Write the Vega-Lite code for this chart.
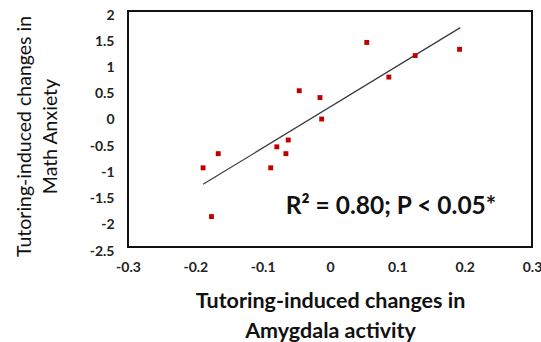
{
  "$schema": "https://vega.github.io/schema/vega-lite/v6.json",
  "width": 404,
  "height": 236,
  "autosize": "none",
  "padding": {"left": 128, "top": 11, "right": 9, "bottom": 95},
  "background": "white",
  "config": {
    "view": {"stroke": "#111111", "strokeWidth": 2},
    "font": "Lato",
    "axis": {"labelOverlap": false, "grid": false, "ticks": false, "domain": false, "labelFlush": false}
  },
  "datasets": {
    "points": [
      {"amygdala": -0.1885, "anxiety": -0.99},
      {"amygdala": -0.166, "anxiety": -0.72},
      {"amygdala": -0.176, "anxiety": -1.92},
      {"amygdala": -0.088, "anxiety": -0.99},
      {"amygdala": -0.079, "anxiety": -0.59},
      {"amygdala": -0.0655, "anxiety": -0.72},
      {"amygdala": -0.062, "anxiety": -0.46},
      {"amygdala": -0.0457, "anxiety": 0.48},
      {"amygdala": -0.0149, "anxiety": 0.35},
      {"amygdala": -0.0124, "anxiety": -0.06},
      {"amygdala": 0.0546, "anxiety": 1.40},
      {"amygdala": 0.0874, "anxiety": 0.74},
      {"amygdala": 0.1265, "anxiety": 1.15},
      {"amygdala": 0.1924, "anxiety": 1.27}
    ],
    "fit": [
      {"amygdala": -0.1885, "anxiety": -1.305},
      {"amygdala": 0.1935, "anxiety": 1.683}
    ],
    "note": [
      {"amygdala": 0.0905, "anxiety": -1.74, "label": "R² = 0.80; P < 0.05*"}
    ]
  },
  "encoding": {
    "x": {
      "field": "amygdala", "type": "quantitative",
      "scale": {"domain": [-0.3, 0.3], "nice": false, "zero": false},
      "axis": {
        "values": [-0.3, -0.2, -0.1, 0, 0.1, 0.2, 0.3],
        "labelExpr": "toString(datum.value)",
        "labelFontSize": 14, "labelFontWeight": "bold", "labelColor": "#222222",
        "labelPadding": 13, "labelOverlap": false,
        "title": ["Tutoring-induced changes in", "Amygdala activity"],
        "titleFontSize": 21.5, "titleFontWeight": "bold", "titleColor": "#111111",
        "titleLineHeight": 30, "titleBaseline": "top", "titleY": 43
      }
    },
    "y": {
      "field": "anxiety", "type": "quantitative",
      "scale": {"domain": [-2.5, 2], "nice": false, "zero": false},
      "axis": {
        "values": [-2.5, -2, -1.5, -1, -0.5, 0, 0.5, 1, 1.5, 2],
        "labelExpr": "toString(datum.value)",
        "labelFontSize": 14, "labelFontWeight": "bold", "labelColor": "#222222",
        "labelPadding": 14, "labelOffset": 4, "labelOverlap": false,
        "title": ["Tutoring-induced changes in", "Math Anxiety"],
        "titleFontSize": 19.5, "titleFontWeight": "normal", "titleColor": "#111111",
        "titleLineHeight": 26, "titleAngle": -90, "titleBaseline": "alphabetic",
        "titleAlign": "center", "titleX": -98, "titleY": 125
      }
    }
  },
  "layer": [
    {
      "data": {"name": "fit"},
      "mark": {"type": "line", "color": "#3a3a3a", "strokeWidth": 1.2}
    },
    {
      "data": {"name": "points"},
      "mark": {"type": "square", "color": "#c00000", "size": 24, "opacity": 1}
    },
    {
      "data": {"name": "note"},
      "mark": {"type": "text", "fontSize": 24.5, "fontWeight": "bold", "color": "#111111", "align": "center", "baseline": "middle"},
      "encoding": {
        "text": {"field": "label"}
      }
    }
  ]
}
